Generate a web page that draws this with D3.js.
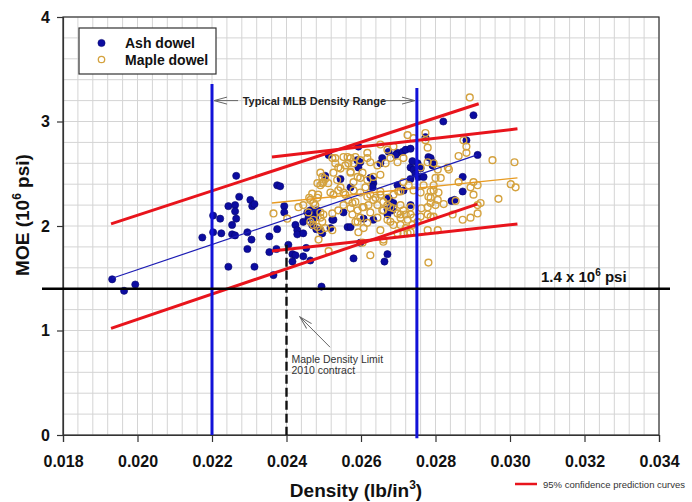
<!DOCTYPE html>
<html>
<head>
<meta charset="utf-8">
<script src="https://cdn.jsdelivr.net/npm/d3@7"></script>
<style>
  body { margin: 0; background: #fff; }
  text { font-family: "Liberation Sans", Arial, sans-serif; }
</style>
</head>
<body>
<svg width="692" height="502"></svg>
<script>
  // density (lb/in^3), MOE (10^6 psi)
  var ash = [[0.01932,1.49],[0.01964,1.38],[0.01994,1.44],[0.02174,1.89],[0.02203,2.10],[0.02203,1.94],[0.02222,2.07],[0.02225,1.93],
    [0.02244,2.19],[0.02244,1.61],[0.02254,2.01],[0.02254,1.92],[0.02262,2.20],[0.02262,2.14],[0.02265,2.07],[0.02273,2.28],[0.02265,2.48],
    [0.02262,1.91],[0.02303,2.25],[0.02308,2.19],[0.02314,2.21],[0.02295,1.94],[0.02306,1.87],[0.02295,1.78],[0.02314,1.61],[0.02354,1.90],
    [0.02354,1.75],[0.02375,2.39],[0.02383,2.38],[0.02375,1.97],[0.02373,1.78],[0.02365,1.53],[0.02394,2.19],[0.02394,2.13],[0.02405,1.82],
    [0.02416,1.73],[0.02424,1.72],[0.02416,1.66],[0.02424,2.01],[0.02429,1.96],[0.02429,1.92],[0.02445,1.93],[0.02453,1.79],[0.02445,1.71],
    [0.02464,1.67],[0.02456,2.13],[0.02464,2.15],[0.02469,2.12],[0.02459,2.08],[0.02469,2.01],[0.02480,1.97],[0.02491,1.96],[0.02496,1.93],
    [0.02483,2.15],[0.02494,1.42],[0.02513,2.68],[0.02523,2.06],[0.02553,2.13],[0.02564,1.99],[0.02572,1.99],[0.02580,1.69],[0.02593,2.76],
    [0.02607,2.07],[0.02633,2.06],[0.02633,2.41],[0.02631,2.44],[0.02663,1.66],[0.02671,1.73],[0.02676,2.25],[0.02684,2.15],[0.02652,2.60],
    [0.02674,2.71],[0.02698,2.70],[0.02733,2.56],[0.02741,2.54],[0.02752,2.60],[0.02754,2.47],[0.02768,2.47],[0.02773,2.85],[0.02781,2.66],
    [0.02821,3.00],[0.02902,3.06],[0.02883,2.82],[0.02913,2.68],[0.02873,2.47],[0.02873,2.33],[0.02843,2.24],[0.02851,2.25],[0.02504,2.48],
    [0.02545,2.45],[0.02693,2.68],[0.02712,2.71],[0.02720,2.73],[0.02733,2.74],[0.02657,2.65],[0.02787,2.65],[0.02792,2.61],[0.02590,2.63],
    [0.02598,2.61],[0.02593,2.56],[0.02625,2.46],[0.02631,2.37],[0.02572,2.37],[0.02674,2.27],[0.02679,2.23],[0.02687,2.22],[0.02698,2.39],
    [0.02714,2.34],[0.02733,2.20],[0.02598,1.84],[0.02671,2.11],[0.02671,2.16],[0.02792,2.58],[0.02445,2.04],[0.02477,2.08],[0.02518,1.98],
    [0.02526,2.06],[0.02738,2.62],[0.02746,2.50],[0.02760,2.55],[0.02733,2.45]];

  var maple = [[0.02365,2.12],[0.02402,2.07],[0.02432,2.18],[0.02464,2.25],[0.02472,2.22],[0.02483,2.27],[0.02485,2.30],[0.02491,2.51],
    [0.02496,2.41],[0.02504,2.45],[0.02512,2.41],[0.02523,2.65],[0.02531,2.60],[0.02539,2.56],[0.02526,2.51],[0.02536,2.44],[0.02545,2.37],
    [0.02553,2.32],[0.02472,2.06],[0.02483,1.99],[0.02491,1.96],[0.02486,1.87],[0.02513,1.76],[0.02564,2.66],[0.02580,2.60],[0.02598,2.63],
    [0.02617,2.65],[0.02625,2.61],[0.02572,2.51],[0.02591,2.47],[0.02604,2.51],[0.02617,2.44],[0.02633,2.47],[0.02652,2.49],[0.02580,2.34],
    [0.02598,2.32],[0.02617,2.28],[0.02633,2.25],[0.02652,2.30],[0.02671,2.27],[0.02687,2.30],[0.02706,2.33],[0.02591,2.15],[0.02607,2.18],
    [0.02625,2.13],[0.02644,2.20],[0.02660,2.15],[0.02679,2.18],[0.02698,2.12],[0.02714,2.15],[0.02733,2.18],[0.02591,2.04],[0.02617,2.03],
    [0.02644,2.08],[0.02671,2.06],[0.02687,2.01],[0.02706,2.08],[0.02725,2.06],[0.02625,1.72],[0.02660,1.87],[0.02698,1.93],[0.02714,1.93],
    [0.02604,1.84],[0.02652,2.78],[0.02671,2.73],[0.02687,2.76],[0.02725,2.87],[0.02741,2.84],[0.02773,2.82],[0.02779,2.75],[0.02760,2.56],
    [0.02779,2.61],[0.02795,2.60],[0.02806,2.54],[0.02760,2.32],[0.02781,2.28],[0.02795,2.34],[0.02779,2.18],[0.02795,2.09],[0.02760,2.09],
    [0.02781,1.65],[0.02779,1.96],[0.02806,1.96],[0.02892,3.23],[0.02773,2.89],[0.02875,2.82],[0.02883,2.76],[0.02883,2.70],[0.02862,2.67],
    [0.02833,2.56],[0.02836,2.54],[0.02953,2.63],[0.03012,2.61],[0.02862,2.42],[0.02902,2.42],[0.02913,2.39],[0.02894,2.37],[0.03002,2.40],
    [0.03015,2.37],[0.02969,2.26],[0.02902,2.30],[0.02921,2.22],[0.02913,2.20],[0.02854,2.24],[0.02822,2.21],[0.02806,2.25],[0.02800,2.20],
    [0.02808,2.32],[0.02795,2.39],[0.02800,2.46],[0.02814,2.46],[0.02873,2.06],[0.02894,2.08],[0.02913,2.12],[0.02846,2.11],[0.02787,2.22],
    [0.02725,1.93],[0.02572,2.65],[0.02585,2.66],[0.02617,2.70],[0.02644,2.58],[0.02666,2.60],[0.02679,2.65],[0.02698,2.61],[0.02714,2.65],
    [0.02580,2.42],[0.02598,2.46],[0.02612,2.37],[0.02625,2.30],[0.02639,2.27],[0.02652,2.33],[0.02660,2.23],[0.02585,2.23],[0.02604,2.18],
    [0.02620,2.20],[0.02657,2.15],[0.02671,2.20],[0.02687,2.17],[0.02706,2.20],[0.02700,2.33],[0.02714,2.42],[0.02728,2.39],[0.02741,2.34],
    [0.02768,2.39],[0.02787,2.33],[0.02787,2.27],[0.02762,2.17],[0.02779,2.11],[0.02787,2.09],[0.02706,2.11],[0.02720,2.11],[0.02733,2.11],
    [0.02741,2.08],[0.02679,2.04],[0.02652,1.96],[0.02706,2.01],[0.02720,1.98],[0.02738,2.01],[0.02752,2.04],[0.02733,1.94],[0.02660,1.85],
    [0.02577,2.11],[0.02585,2.04],[0.02598,2.08],[0.02593,1.94],[0.02607,1.98],[0.02572,2.17],[0.02445,2.20],[0.02461,2.27],[0.02469,2.31],
    [0.02459,2.13],[0.02477,2.20],[0.02491,2.13],[0.02499,2.11],[0.02496,2.47],[0.02499,2.42],[0.02491,2.39],[0.02483,2.41],[0.02518,2.32],
    [0.02526,2.30],[0.02539,2.34],[0.02545,2.55],[0.02558,2.58],[0.02566,2.60],[0.02572,2.52],[0.02531,2.65],[0.02553,2.66],[0.02491,2.08],
    [0.02496,2.04],[0.02472,2.01],[0.02464,2.04],[0.02523,2.12],[0.02523,1.96],[0.02504,1.98],[0.02539,2.15],[0.02553,2.20],[0.02577,2.22],
    [0.02558,2.30],[0.02566,2.25]];

  // fit lines and 95% prediction limits (end points)
  var ashFit = [[0.01932,1.50],[0.02912,2.68]];
  var mapleFit = [[0.02361,2.22],[0.0302,2.46]];
  var predLines = [
    [[0.01929,2.02],[0.02916,3.17]],
    [[0.01929,1.02],[0.02912,2.21]],
    [[0.02361,2.66],[0.0302,2.93]],
    [[0.02361,1.76],[0.0302,2.02]]
  ];
  var mlbRange = [0.022, 0.0275];
  var mapleLimit = 0.024;
  var threshold = 1.4;
  var xTicks = [0.018,0.020,0.022,0.024,0.026,0.028,0.030,0.032,0.034];
  var yTicks = [0,1,2,3,4];

  var svg = d3.select("svg");
  var x = d3.scaleLinear().domain([0.018, 0.034]).range([63, 659]);
  var y = d3.scaleLinear().domain([0, 4]).range([435, 17]);

  var defs = svg.append("defs");
  defs.append("marker")
    .attr("id", "openArrow")
    .attr("viewBox", "0 -5 14 10")
    .attr("refX", 13).attr("refY", 0)
    .attr("markerWidth", 14).attr("markerHeight", 10)
    .attr("markerUnits", "userSpaceOnUse")
    .attr("orient", "auto-start-reverse")
    .append("path")
    .attr("d", "M0,-3.5L13,0L0,3.5")
    .style("fill", "none")
    .style("stroke", "#666")
    .style("stroke-width", 1);

  // grid
  var grid = svg.append("g");
  grid.selectAll(".vg").data(d3.range(0, 41)).enter().append("line")
    .attr("x1", function(i) { return x(0.018 + i * 0.0004); })
    .attr("x2", function(i) { return x(0.018 + i * 0.0004); })
    .attr("y1", y(0)).attr("y2", y(4))
    .style("stroke", "#d4d4d4").style("stroke-width", 1);
  grid.selectAll(".hg").data(d3.range(0, 21)).enter().append("line")
    .attr("y1", function(i) { return y(i * 0.2); })
    .attr("y2", function(i) { return y(i * 0.2); })
    .attr("x1", x(0.018)).attr("x2", x(0.034))
    .style("stroke", "#d4d4d4").style("stroke-width", 1);

  // frame
  svg.append("rect")
    .attr("x", x(0.018)).attr("y", y(4))
    .attr("width", x(0.034) - x(0.018)).attr("height", y(0) - y(4))
    .style("fill", "none").style("stroke", "#333").style("stroke-width", 1.2);

  var xAxis = svg.append("g").attr("transform", "translate(0," + y(0) + ")")
    .call(d3.axisBottom(x).tickValues(xTicks).tickFormat(d3.format(".3f")).tickSize(7).tickPadding(14));
  var yAxis = svg.append("g").attr("transform", "translate(" + x(0.018) + ",0)")
    .call(d3.axisLeft(y).tickValues(yTicks).tickFormat(d3.format("d")).tickSize(6).tickPadding(7));
  [xAxis, yAxis].forEach(function(a) {
    a.select(".domain").style("stroke", "#333").style("stroke-width", 1.2);
    a.selectAll(".tick line").style("stroke", "#333").style("stroke-width", 1.2);
    a.selectAll("text").style("font-size", "16px").style("font-weight", "bold").style("fill", "#111")
      .style("font-family", "Liberation Sans, Arial, sans-serif");
  });

  var line = d3.line().x(function(d) { return x(d[0]); }).y(function(d) { return y(d[1]); });

  // ash points
  svg.append("g").selectAll("circle").data(ash).enter().append("circle")
    .attr("cx", function(d) { return x(d[0]); })
    .attr("cy", function(d) { return y(d[1]); })
    .attr("r", 3.6)
    .style("fill", "#0c0ca0").style("stroke", "#08086e").style("stroke-width", 0.6);

  // maple points
  svg.append("g").selectAll("circle").data(maple).enter().append("circle")
    .attr("cx", function(d) { return x(d[0]); })
    .attr("cy", function(d) { return y(d[1]); })
    .attr("r", 3.4)
    .style("fill", "none").style("stroke", "#d4a23e").style("stroke-width", 1.4);

  // fits
  svg.append("path").datum(ashFit).attr("d", line)
    .style("fill", "none").style("stroke", "#1c1cb4").style("stroke-width", 1.2);
  svg.append("path").datum(mapleFit).attr("d", line)
    .style("fill", "none").style("stroke", "#e89b22").style("stroke-width", 1.3);

  // 95% prediction limits
  svg.append("g").selectAll("path").data(predLines).enter().append("path")
    .attr("d", line)
    .style("fill", "none").style("stroke", "#e8141c").style("stroke-width", 3);

  // MLB density range
  svg.append("g").selectAll("line").data(mlbRange).enter().append("line")
    .attr("x1", function(d) { return x(d); }).attr("x2", function(d) { return x(d); })
    .attr("y1", function(d, i) { return y(i ? 3.32 : 3.36); })
    .attr("y2", function(d, i) { return y(i ? -0.03 : 0); })
    .style("stroke", "#1212d8").style("stroke-width", 3);

  // maple density limit
  svg.append("line")
    .attr("x1", x(mapleLimit)).attr("x2", x(mapleLimit))
    .attr("y1", y(1.82)).attr("y2", y(0))
    .style("stroke", "#111").style("stroke-width", 2.4).style("stroke-dasharray", "9,4");

  // 1.4 threshold
  svg.append("line")
    .attr("x1", 42).attr("x2", 670)
    .attr("y1", y(threshold)).attr("y2", y(threshold))
    .style("stroke", "#000").style("stroke-width", 2.6);

  var thr = svg.append("text")
    .attr("x", 541).attr("y", y(threshold) - 7)
    .style("font-size", "15px").style("font-weight", "bold").style("fill", "#111");
  thr.append("tspan").text("1.4 x 10");
  thr.append("tspan").attr("dy", -6).style("font-size", "10px").text("6");
  thr.append("tspan").attr("dy", 6).text(" psi");

  // MLB range annotation
  svg.append("text")
    .attr("x", (x(mlbRange[0]) + x(mlbRange[1])) / 2).attr("y", y(3.2) + 4)
    .attr("text-anchor", "middle")
    .style("font-size", "11px").style("font-weight", "bold").style("fill", "#222")
    .text("Typical MLB Density Range");
  svg.append("line")
    .attr("x1", x(mlbRange[0]) + 2).attr("x2", x(0.0227))
    .attr("y1", y(3.2)).attr("y2", y(3.2))
    .attr("marker-start", "url(#openArrow)")
    .style("stroke", "#666").style("stroke-width", 1);
  svg.append("line")
    .attr("x1", x(0.02655)).attr("x2", x(mlbRange[1]) - 2)
    .attr("y1", y(3.2)).attr("y2", y(3.2))
    .attr("marker-end", "url(#openArrow)")
    .style("stroke", "#666").style("stroke-width", 1);

  // maple limit annotation
  svg.append("line")
    .attr("x1", x(0.02517)).attr("y1", y(0.84))
    .attr("x2", x(0.02436)).attr("y2", y(1.13))
    .attr("marker-end", "url(#openArrow)")
    .style("stroke", "#666").style("stroke-width", 1);
  svg.append("text")
    .attr("x", x(mapleLimit) + 5).attr("y", y(0.69))
    .style("font-size", "10.5px").style("fill", "#333")
    .text("Maple Density Limit");
  svg.append("text")
    .attr("x", x(mapleLimit) + 5).attr("y", y(0.58))
    .style("font-size", "10.5px").style("fill", "#333")
    .text("2010 contract");

  // legend
  svg.append("rect")
    .attr("x", 79).attr("y", 28).attr("width", 137).attr("height", 46)
    .style("fill", "#fff").style("stroke", "#333").style("stroke-width", 1.2);
  svg.append("circle").attr("cx", 101.5).attr("cy", 43).attr("r", 3.6)
    .style("fill", "#0c0ca0").style("stroke", "#08086e").style("stroke-width", 0.6);
  svg.append("circle").attr("cx", 101.5).attr("cy", 59.5).attr("r", 3.2)
    .style("fill", "none").style("stroke", "#d4a23e").style("stroke-width", 1.3);
  svg.append("text").attr("x", 125).attr("y", 48)
    .style("font-size", "14px").style("font-weight", "bold").style("fill", "#111").text("Ash dowel");
  svg.append("text").attr("x", 125).attr("y", 65)
    .style("font-size", "14px").style("font-weight", "bold").style("fill", "#111").text("Maple dowel");

  // axis titles
  var xt = svg.append("text")
    .attr("x", 356).attr("y", 497)
    .attr("text-anchor", "middle")
    .style("font-size", "19px").style("font-weight", "bold").style("fill", "#111");
  xt.append("tspan").text("Density (lb/in");
  xt.append("tspan").attr("dy", -8).style("font-size", "12px").text("3");
  xt.append("tspan").attr("dy", 8).text(")");

  var yt = svg.append("text")
    .attr("transform", "translate(29, 215) rotate(-90)")
    .attr("text-anchor", "middle")
    .style("font-size", "19px").style("font-weight", "bold").style("fill", "#111");
  yt.append("tspan").text("MOE (10");
  yt.append("tspan").attr("dy", -8).style("font-size", "12px").text("6");
  yt.append("tspan").attr("dy", 8).text(" psi)");

  // bottom legend
  svg.append("line")
    .attr("x1", 515).attr("x2", 537).attr("y1", 484).attr("y2", 484)
    .style("stroke", "#e8141c").style("stroke-width", 2.5);
  svg.append("text")
    .attr("x", 543).attr("y", 487.5)
    .style("font-size", "9.5px").style("fill", "#333")
    .text("95% confidence prediction curves");
</script>
</body>
</html>
